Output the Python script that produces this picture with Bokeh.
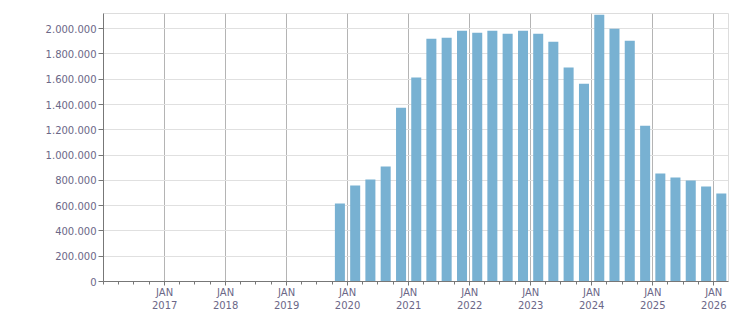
from datetime import datetime
from bokeh.plotting import figure
from bokeh.models import FixedTicker, CustomJSTickFormatter, Range1d, ColumnDataSource
from bokeh.embed import file_html
from bokeh.resources import INLINE

# Quarterly data: Q4 2019 .. Q1 2026 (bar centered at quarter midpoint)
quarters = [
    "2019-Q4",
    "2020-Q1", "2020-Q2", "2020-Q3", "2020-Q4",
    "2021-Q1", "2021-Q2", "2021-Q3", "2021-Q4",
    "2022-Q1", "2022-Q2", "2022-Q3", "2022-Q4",
    "2023-Q1", "2023-Q2", "2023-Q3", "2023-Q4",
    "2024-Q1", "2024-Q2", "2024-Q3", "2024-Q4",
    "2025-Q1", "2025-Q2", "2025-Q3", "2025-Q4",
    "2026-Q1",
]
values = [
    617000,
    759000, 806000, 909000, 1375000,
    1613000, 1921000, 1929000, 1984000,
    1968000, 1984000, 1960000, 1984000,
    1960000, 1897000, 1692000, 1565000,
    2111000, 2000000, 1905000, 1233000,
    854000, 822000, 798000, 751000,
    696000,
]
year_ticks = list(range(2017, 2027))
y_ticks = list(range(0, 2000001, 200000))

def q_mid(q):
    y, n = q.split("-Q")
    y, n = int(y), int(n)
    m0 = 3 * (n - 1) + 1
    start = datetime(y, m0, 1)
    end = datetime(y + (1 if n == 4 else 0), (m0 + 3 - 1) % 12 + 1, 1)
    return start + (end - start) / 2

def ms(d):
    return (d - datetime(1970, 1, 1)).total_seconds() * 1000.0

xs = [ms(q_mid(q)) for q in quarters]
src = ColumnDataSource(dict(x=xs, top=values))

text_color = "#6b6787"

p = figure(width=751, height=313, x_axis_type="datetime",
           output_backend="svg", toolbar_location=None,
           x_range=Range1d(ms(datetime(2016, 1, 1)), ms(datetime(2026, 3, 30))),
           y_range=Range1d(0, 2120000),
           min_border_left=103, min_border_right=23,
           min_border_top=13, min_border_bottom=32)

p.vbar(x="x", top="top", width=60 * 86400000, source=src,
       fill_color="#78b1d2", line_color=None)

major = [ms(datetime(y, 1, 1)) for y in year_ticks]
minor = [ms(datetime(y, m, 1)) for y in range(2016, 2027) for m in (1, 4, 7, 10)]
p.xaxis.ticker = FixedTicker(ticks=major, minor_ticks=minor)
p.xaxis.major_label_overrides = {int(ms(datetime(y, 1, 1))): "JAN\n" + str(y) for y in year_ticks}
p.yaxis.ticker = FixedTicker(ticks=y_ticks)
p.yaxis.formatter = CustomJSTickFormatter(code="""
return Math.round(tick).toString().replace(/\\B(?=(\\d{3})+(?!\\d))/g, '.');
""")

for ax in (p.xaxis, p.yaxis):
    ax.axis_line_color = "#777777"
    ax.major_tick_line_color = "#777777"
    ax.minor_tick_line_color = "#777777"
    ax.major_label_text_color = text_color
    ax.major_label_text_font = "DejaVu Sans"
    ax.major_label_text_font_size = "10px"

p.xaxis.major_tick_out = 4
p.xaxis.major_tick_in = 0
p.xaxis.minor_tick_out = 3
p.xaxis.minor_tick_in = 0
p.xaxis.major_label_standoff = 1
p.yaxis.major_tick_out = 5
p.yaxis.major_tick_in = 0
p.yaxis.minor_tick_line_color = None
p.yaxis.major_label_standoff = 2

p.xgrid.grid_line_color = "#b4b4b4"
p.ygrid.grid_line_color = "#e0e0e0"
p.outline_line_color = "#dddddd"
p.background_fill_color = "white"
p.border_fill_color = "white"

open("out.html", "w").write(file_html(p, INLINE))
